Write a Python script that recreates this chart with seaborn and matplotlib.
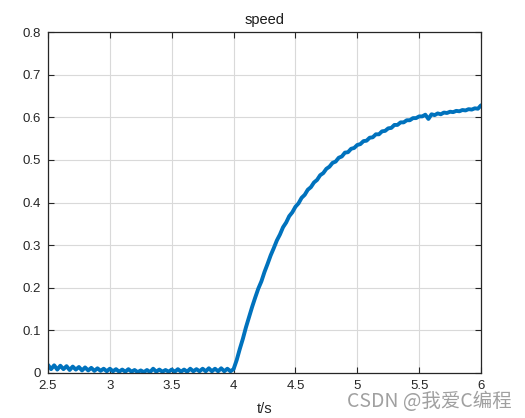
import numpy as np
import pandas as pd
import seaborn as sns
import matplotlib.pyplot as plt

speed_idle = [
    0.019, 0.009, 0.018, 0.008, 0.017, 0.009, 0.016, 0.007, 0.015, 0.008,
    0.014, 0.006, 0.013, 0.006, 0.012, 0.005, 0.011, 0.005, 0.010, 0.004,
    0.010, 0.004, 0.009, 0.003, 0.008, 0.003, 0.009, 0.003, 0.007, 0.002,
    0.006, 0.002, 0.007, 0.002, 0.010, 0.003, 0.008, 0.003, 0.007, 0.003,
    0.008, 0.003, 0.009, 0.003, 0.008, 0.003, 0.010, 0.004, 0.009, 0.004,
    0.010, 0.004, 0.011, 0.004, 0.010, 0.004, 0.011, 0.004, 0.010, 0.004,
    0.009,
]
speed_rise = [
    0.030, 0.056, 0.080, 0.107, 0.131, 0.155, 0.177, 0.198, 0.215, 0.237,
    0.256, 0.276, 0.293, 0.311, 0.325, 0.342, 0.353, 0.368, 0.377, 0.390,
    0.398, 0.411, 0.418, 0.430, 0.436, 0.447, 0.453, 0.464, 0.469, 0.479,
    0.484, 0.493, 0.496, 0.505, 0.508, 0.517, 0.518, 0.526, 0.528, 0.535,
    0.537, 0.544, 0.545, 0.552, 0.553, 0.560, 0.560, 0.567, 0.568, 0.574,
    0.575, 0.582, 0.582, 0.588, 0.588, 0.593, 0.593, 0.598, 0.598, 0.602,
    0.602, 0.606, 0.596, 0.607, 0.605, 0.609, 0.607, 0.611, 0.610, 0.613,
    0.612, 0.615, 0.614, 0.617, 0.616, 0.619, 0.618, 0.621, 0.620, 0.628,
]
speed = speed_idle + speed_rise
t_start, t_end = 2.5, 6.0
time = np.linspace(t_start, t_end, len(speed))

x_ticks = [2.5, 3, 3.5, 4, 4.5, 5, 5.5, 6]
x_labels = ['2.5', '3', '3.5', '4', '4.5', '5', '5.5', '6']
y_ticks = [0, 0.1, 0.2, 0.3, 0.4, 0.5, 0.6, 0.7, 0.8]
y_labels = ['0', '0.1', '0.2', '0.3', '0.4', '0.5', '0.6', '0.7', '0.8']

df = pd.DataFrame({'t': time, 'speed': speed})

sns.set_style('ticks')
plt.rcParams['font.family'] = ['Liberation Sans', 'DejaVu Sans']

fig = plt.figure(figsize=(5.25, 4.18), dpi=100)
ax = fig.add_axes([0.0914, 0.1077, 0.8248, 0.8157])

sns.lineplot(data=df, x='t', y='speed', ax=ax, color='#0072BD', linewidth=2.8, sort=False)

ax.set_xlim(t_start, t_end)
ax.set_ylim(0, 0.8)
ax.set_xticks(x_ticks)
ax.set_xticklabels(x_labels)
ax.set_yticks(y_ticks)
ax.set_yticklabels(y_labels)
ax.grid(True, color='#d9d9d9', linewidth=0.8)
ax.set_axisbelow(True)

for s in ax.spines.values():
    s.set_visible(True)
    s.set_color('#262626')
    s.set_linewidth(0.9)
ax.tick_params(direction='in', length=4, width=0.8, top=True, right=True,
               labelsize=9.5, colors='#262626', pad=5)

ax.set_title('speed', fontsize=10.5, color='#1a1a1a', pad=6)
ax.set_xlabel('t/s', fontsize=10.5, color='#262626', labelpad=7)
ax.set_ylabel('')

fig.text(0.975, 0.04, 'CSDN @我爱C编程', ha='right', va='center', fontsize=14,
         color='#a0a0a0', family=['Noto Sans CJK SC', 'DejaVu Sans'])

fig.savefig('out.png', dpi=100)
